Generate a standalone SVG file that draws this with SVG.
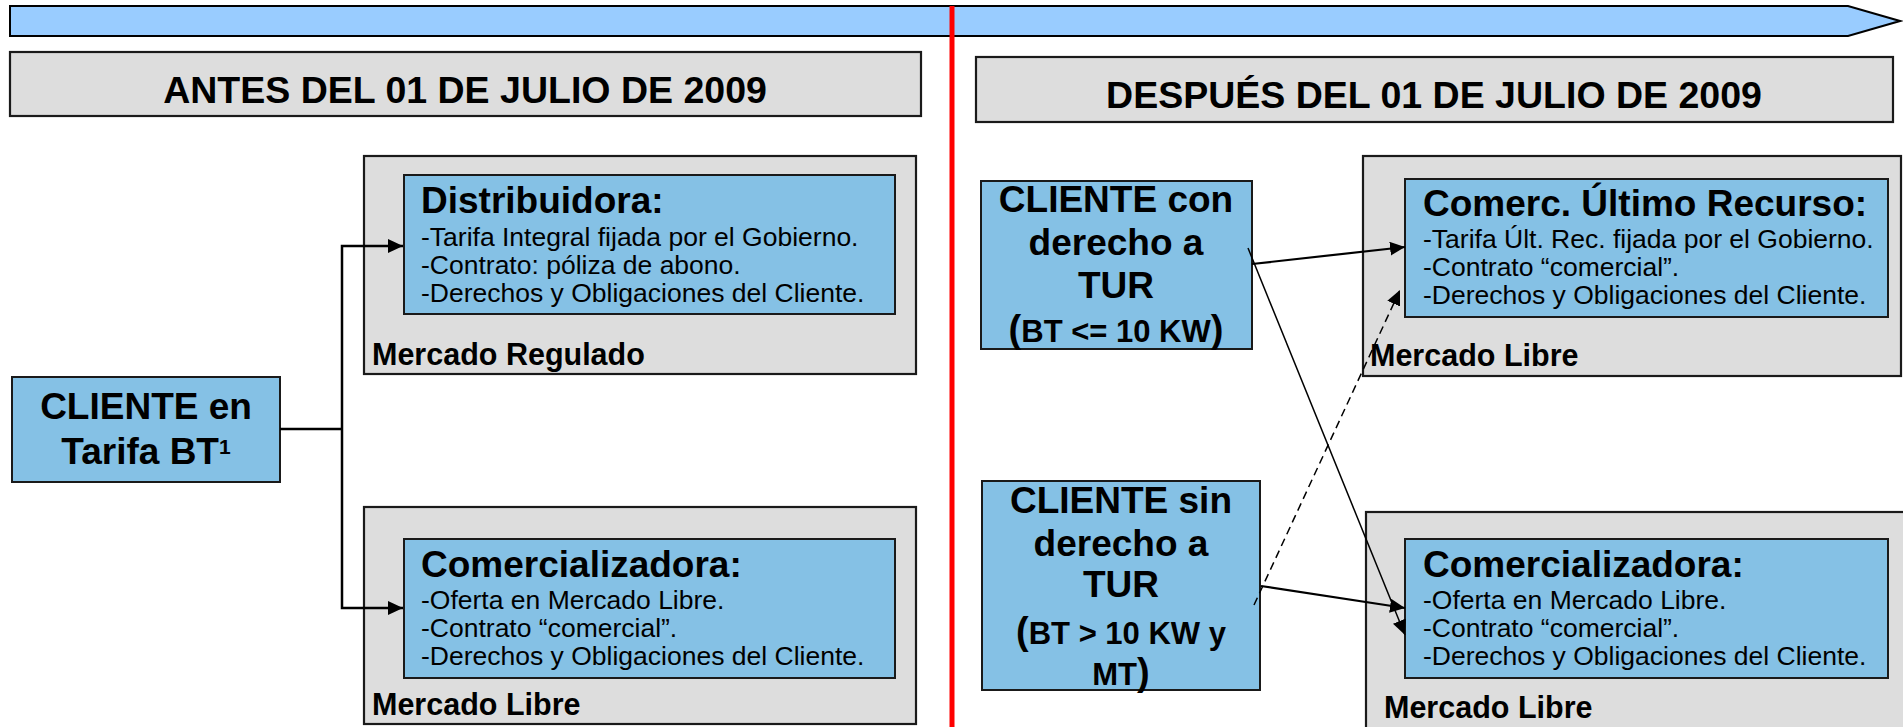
<svg xmlns="http://www.w3.org/2000/svg" width="1903" height="727" viewBox="0 0 1903 727">
<style>
.gray{fill:#DDDDDD;stroke:#1a1a1a;stroke-width:2.2}
.blue{fill:#85C1E5;stroke:#1a1a1a;stroke-width:2}
text{font-family:"Liberation Sans",Arial,Helvetica,sans-serif;fill:#000}
.hdr{font-size:37.5px;font-weight:bold;text-anchor:middle}
.ttl{font-size:37px;font-weight:bold}
.body{font-size:26.5px}
.mkt{font-size:30.5px;font-weight:bold}
.cli{font-size:37px;font-weight:bold;text-anchor:middle}
.con{fill:none;stroke:#000}
</style>
<defs>
<marker id="ah" viewBox="0 0 15 14" refX="15" refY="7" markerWidth="15" markerHeight="14" orient="auto" markerUnits="userSpaceOnUse">
<path d="M0,0 L15,7 L0,14 z" fill="#000"/>
</marker>
</defs>
<rect width="1903" height="727" fill="#FFFFFF"/>
<g id="timeline">
<polygon points="10,6 1848,6 1900,21 1848,36 10,36" fill="#99CCFF" stroke="#000" stroke-width="2"/>
</g>
<g id="header-antes">
<rect class="gray" x="10" y="52" width="911" height="64"/>
<text class="hdr" x="465" y="103">ANTES DEL 01 DE JULIO DE 2009</text>
</g>
<g id="header-despues">
<rect class="gray" x="976" y="57" width="917" height="65"/>
<text class="hdr" x="1434" y="108">DESPUÉS DEL 01 DE JULIO DE 2009</text>
</g>
<g id="regulado-distribuidora">
<rect class="gray" x="364" y="156" width="552" height="218"/>
<rect class="blue" x="404" y="175" width="491" height="139"/>
<text class="ttl" x="421" y="213">Distribuidora:</text>
<text class="body" x="421" y="246">-Tarifa Integral fijada por el Gobierno.</text>
<text class="body" x="421" y="274">-Contrato: póliza de abono.</text>
<text class="body" x="421" y="302">-Derechos y Obligaciones del Cliente.</text>
<text class="mkt" x="372" y="365">Mercado Regulado</text>
</g>
<g id="libre-comercializadora-antes">
<rect class="gray" x="364" y="507" width="552" height="217"/>
<rect class="blue" x="404" y="539" width="491" height="139"/>
<text class="ttl" x="421" y="577">Comercializadora:</text>
<text class="body" x="421" y="609">-Oferta en Mercado Libre.</text>
<text class="body" x="421" y="637">-Contrato “comercial”.</text>
<text class="body" x="421" y="665">-Derechos y Obligaciones del Cliente.</text>
<text class="mkt" x="372" y="715">Mercado Libre</text>
</g>
<g id="cliente-tarifa-bt">
<rect class="blue" x="12" y="377" width="268" height="105"/>
<text class="cli" x="146" y="419">CLIENTE en</text>
<text class="cli" x="146" y="464">Tarifa BT<tspan font-size="21" dy="-10">1</tspan></text>
</g>
<g id="cliente-con-tur">
<rect class="blue" x="981" y="181" width="271" height="168"/>
<text class="cli" x="1116" y="212">CLIENTE con</text>
<text class="cli" x="1116" y="255">derecho a</text>
<text class="cli" x="1116" y="298">TUR</text>
<text class="cli" x="1116" y="342"><tspan font-size="38">(</tspan><tspan font-size="31">BT &lt;= 10 KW</tspan><tspan font-size="38">)</tspan></text>
</g>
<g id="cliente-sin-tur">
<rect class="blue" x="982" y="481" width="278" height="209"/>
<text class="cli" x="1121" y="513">CLIENTE sin</text>
<text class="cli" x="1121" y="556">derecho a</text>
<text class="cli" x="1121" y="597">TUR</text>
<text class="cli" x="1121" y="644"><tspan font-size="38">(</tspan><tspan font-size="31">BT &gt; 10 KW y</tspan></text>
<text class="cli" x="1121" y="685"><tspan font-size="31">MT</tspan><tspan font-size="38">)</tspan></text>
</g>
<g id="libre-cur">
<rect class="gray" x="1363" y="156" width="538" height="220"/>
<rect class="blue" x="1405" y="179" width="483" height="138"/>
<text class="ttl" x="1423" y="216">Comerc. Último Recurso:</text>
<text class="body" x="1423" y="248">-Tarifa Últ. Rec. fijada por el Gobierno.</text>
<text class="body" x="1423" y="276">-Contrato “comercial”.</text>
<text class="body" x="1423" y="304">-Derechos y Obligaciones del Cliente.</text>
<text class="mkt" x="1370" y="366">Mercado Libre</text>
</g>
<g id="libre-comercializadora-despues">
<rect class="gray" x="1366" y="512" width="540" height="230"/>
<rect class="blue" x="1405" y="539" width="483" height="139"/>
<text class="ttl" x="1423" y="577">Comercializadora:</text>
<text class="body" x="1423" y="609">-Oferta en Mercado Libre.</text>
<text class="body" x="1423" y="637">-Contrato “comercial”.</text>
<text class="body" x="1423" y="665">-Derechos y Obligaciones del Cliente.</text>
<text class="mkt" x="1384" y="718">Mercado Libre</text>
</g>
<g id="connectors">
<path class="con" stroke-width="2.5" d="M280,429 H342"/>
<path class="con" stroke-width="2.5" d="M342,429 V246 H403" marker-end="url(#ah)"/>
<path class="con" stroke-width="2.5" d="M342,429 V608 H403" marker-end="url(#ah)"/>
<path class="con" stroke-width="2.2" d="M1252,264 L1405,247" marker-end="url(#ah)"/>
<path class="con" stroke-width="1.5" d="M1248,248 L1405,635" marker-end="url(#ah)"/>
<path class="con" stroke-width="2.2" d="M1261,586 L1405,608" marker-end="url(#ah)"/>
<path class="con" stroke-width="1.5" stroke-dasharray="8,5" d="M1254,605 L1400,290" marker-end="url(#ah)"/>
</g>
<g id="divider">
<line x1="952" y1="6" x2="952" y2="727" stroke="#FF0000" stroke-width="5"/>
</g>
</svg>
